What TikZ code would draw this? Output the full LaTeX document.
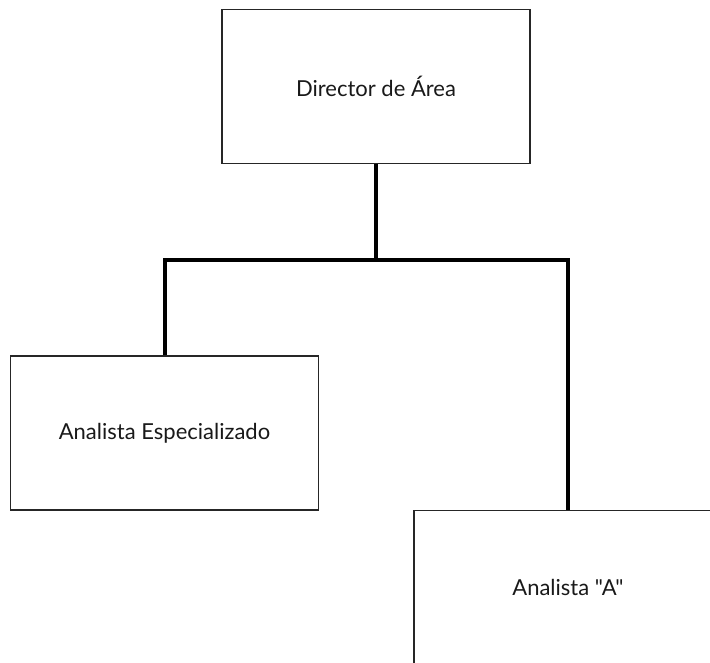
\documentclass[tikz,border=0pt]{standalone}
\usepackage{fontspec}
\newfontfamily\lato{Lato}
\begin{document}
\begin{tikzpicture}[x=0.75pt,y=-0.75pt,
  box/.style={draw=black!85,line width=1pt,minimum width=231pt,minimum height=115.5pt,inner sep=0pt,font=\lato\fontsize{16.5}{18}\selectfont,text=black!90},
  link/.style={line width=3pt,black}]
\useasboundingbox (0,0) rectangle (710,663);
\clip (0,0) rectangle (710,663);
\node[box] (dir) at (376,86.5) {Director de Área};
\node[box] (esp) at (164.5,433) {Analista Especializado};
\node[box] (ana) at (568,587.5) {Analista "A"};
\coordinate (j) at (376,260);
\draw[link] (dir.south) -- (j);
\draw[link] (esp.north) |- (j) -| (ana.north);
\end{tikzpicture}
\end{document}
